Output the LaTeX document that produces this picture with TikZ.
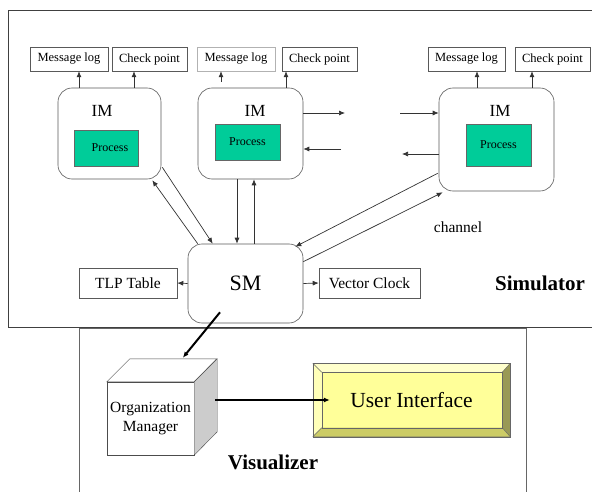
\documentclass[tikz,border=0pt]{standalone}
\usepackage{fontspec}
\setmainfont{Liberation Serif}
\usepackage{tikz}
\usetikzlibrary{arrows.meta}
\usetikzlibrary{positioning, calc}
\definecolor{procgreen}{HTML}{00CC99}
\definecolor{uiface}{HTML}{FFFF99}
\definecolor{uitop}{HTML}{FFFFCC}
\definecolor{uileft}{HTML}{FFFFB8}
\definecolor{uibottom}{HTML}{CCCC66}
\definecolor{uiright}{HTML}{999955}
\tikzset{
  frame/.style={draw=black!75, line width=0.9pt},
  logbox/.style={draw=black!65, fill=white, inner sep=0pt, minimum height=24pt, font=\fontsize{12.5}{13}\selectfont},
  imbox/.style={draw=black!65, line width=0.6pt, rounded corners=14pt, inner sep=0pt},
  imtext/.style={font=\fontsize{17}{19}\selectfont},
  procbox/.style={draw=black!60, fill=procgreen, inner sep=0pt, minimum width=65pt, font=\fontsize{12}{13}\selectfont},
  plainbox/.style={draw=black!65, line width=0.6pt, fill=white, inner sep=0pt, minimum height=30pt, font=\fontsize{15.5}{17}\selectfont},
  conn/.style={draw=black!80, line width=0.7pt, ->},
  bigconn/.style={draw=black, line width=2pt, ->}
}
\begin{document}
\begin{tikzpicture}[x=1pt, y=-1pt, >={Latex[length=6pt,width=5pt]}]
\useasboundingbox (0,0) rectangle (592,492);
% outer frames
\draw[frame] (592,10) -- (8,10) -- (8,327) -- (592,327);
\draw[frame, draw=black!60] (79,492) -- (79,328) -- (526,328) -- (526,492);

% logs and check points
\node[logbox, minimum width=78pt] (ml1) at (69,59) {Message log};
\node[logbox, minimum width=75pt] (cp1) at (149.5,59) {Check point};
\node[logbox, minimum width=78pt, draw=black!30] (ml2) at (236,59) {Message log};
\node[logbox, minimum width=75pt] (cp2) at (319.5,59) {Check point};
\node[logbox, minimum width=77pt] (ml3) at (466.5,59) {Message log};
\node[logbox, minimum width=75pt] (cp3) at (552.5,59) {Check point};

% IM boxes
\node[imbox, minimum width=103pt, minimum height=91pt] (im1) at (109.5,133.5) {};
\node[imbox, minimum width=105pt, minimum height=91pt] (im2) at (250.5,133.5) {};
\node[imbox, minimum width=115pt, minimum height=103pt] (im3) at (496.5,139.5) {};
\node[imtext] (imt1) at (102,111) {IM};
\node[imtext] (imt2) at (255,111) {IM};
\node[imtext] (imt3) at (500,111) {IM};
\node[procbox, minimum width=64pt, minimum height=36pt] (pr1) at (106,148) {\hspace{8pt}Process};
\node[procbox, minimum height=36pt] (pr2) at (247.5,142) {Process};
\node[procbox, minimum height=42pt] (pr3) at (498.5,145) {Process};

% SM and its tables
\node[imbox, minimum width=115pt, minimum height=79pt, font=\fontsize{22}{24}\selectfont] (sm) at (245.5,283.5) {SM};
\node[plainbox, minimum width=98pt] (tlp) at (128,283) {TLP Table};
\node[plainbox, minimum width=101pt] (vc) at (369.5,283) {Vector Clock};
\node[font=\fontsize{15.5}{17}\selectfont] (chan) at (458,227) {channel};
\node[font=\bfseries\fontsize{21}{23}\selectfont] (simlbl) at (540,283) {Simulator};

% x positions of the short up arrows
\path (79,0) coordinate (x1) (134,0) coordinate (x2) (221,0) coordinate (x3)
      (286,0) coordinate (x4) (477,0) coordinate (x5) (532,0) coordinate (x6);
\draw[conn] (im1.north -| x1) -- (ml1.south -| x1);
\draw[conn] (im1.north -| x2) -- (cp1.south -| x2);
\draw[conn, shorten <=6pt] (im2.north -| x3) -- (ml2.south -| x3);
\draw[conn] (im2.north -| x4) -- (cp2.south -| x4);
\draw[conn] (im3.north -| x5) -- (ml3.south -| x5);
\draw[conn] (im3.north -| x6) -- (cp3.south -| x6);

% channel stubs
\coordinate (h1) at (345,113);
\coordinate (h2) at (341,149);
\coordinate (h3) at (400,113);
\coordinate (h4) at (402,154);
\draw[conn] (im2.east |- h1) -- (h1);
\draw[conn] (h2) -- (im2.east |- h2);
\draw[conn] (h3) -- (im3.west |- h3);
\draw[conn] (im3.west |- h4) -- (h4);

% IM <-> SM
\draw[conn] ($(im1.south east)+(1,-12)$) -- ($(sm.north west)+(25,0)$);
\draw[conn] ($(sm.north west)+(10,0)$) -- ($(im1.south east)+(-9,1)$);
\path (237,0) coordinate (v1) (254,0) coordinate (v2);
\draw[conn] (im2.south -| v1) -- (sm.north -| v1);
\draw[conn] (sm.north -| v2) -- (im2.south -| v2);
\draw[conn] ($(im3.south west)+(-1,-18)$) -- ($(sm.north east)+(-8,3)$);
\draw[conn] ($(sm.north east)+(0,18)$) -- ($(im3.south west)+(4,1)$);
\draw[conn] (sm.west) -- (tlp.east);
\draw[conn] (sm.east) -- (vc.west);

% visualizer
\node[draw=black!70, fill=white, inner sep=0pt, minimum width=87pt, minimum height=73pt,
      align=center, font=\fontsize{15.5}{19}\selectfont] (om) at (150.5,418.5) {Organization\\Manager};
\filldraw[draw=black!70, fill=white] (om.north west) -- ++(23,-23) -- ++(87,0) -- (om.north east) -- cycle;
\filldraw[draw=black!70, fill=black!20] (om.north east) -- ++(23,-23) -- ++(0,73) -- (om.south east) -- cycle;

\node[draw=black!60, fill=uiface, inner sep=0pt, minimum width=197pt, minimum height=73pt] (ui) at (411.5,400) {};
\fill[uitop] (ui.north west) -- (ui.north east) -- ($(ui.north east)+(-8,9)$) -- ($(ui.north west)+(9,9)$) -- cycle;
\fill[uileft] (ui.north west) -- ($(ui.north west)+(9,9)$) -- ($(ui.south west)+(9,-9)$) -- (ui.south west) -- cycle;
\fill[uibottom] (ui.south west) -- ($(ui.south west)+(9,-9)$) -- ($(ui.south east)+(-8,-9)$) -- (ui.south east) -- cycle;
\fill[uiright] (ui.north east) -- ($(ui.north east)+(-8,9)$) -- ($(ui.south east)+(-8,-9)$) -- (ui.south east) -- cycle;
\draw[black!60] (ui.north west) rectangle (ui.south east);
\draw[black!60] ($(ui.north west)+(9,9)$) rectangle ($(ui.south east)+(-8,-9)$);
\draw[black!60] (ui.north west) -- ++(9,9) (ui.north east) -- ++(-8,9)
  (ui.south west) -- ++(9,-9) (ui.south east) -- ++(-8,-9);
\node[font=\fontsize{21.5}{23}\selectfont] (uitext) at (ui) {User Interface};
\node[font=\bfseries\fontsize{21}{23}\selectfont] (vislbl) at (273,462) {Visualizer};

\draw[bigconn] ($(sm.south)+(-25.5,-11)$) -- ($(om.north west)+(76,-24)$);
\draw[bigconn] ($(om.east)+(21,-18.5)$) -- ($(ui.west)+(17,0)$);
\end{tikzpicture}
\end{document}
